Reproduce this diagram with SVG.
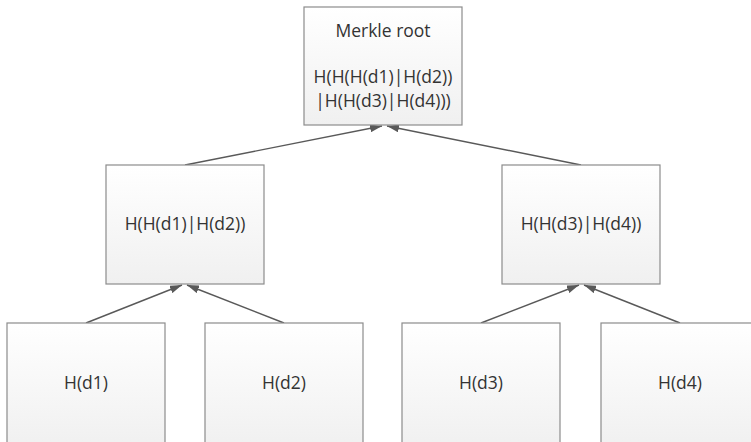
<svg xmlns="http://www.w3.org/2000/svg" width="751" height="442" viewBox="0 0 751 442">
<defs>
<linearGradient id="g" x1="0" y1="0" x2="0" y2="1">
<stop offset="0" stop-color="#ffffff"/>
<stop offset="1" stop-color="#f0f0f0"/>
</linearGradient>
<marker id="arr" viewBox="0 0 12 8" refX="12" refY="4" markerWidth="12" markerHeight="8" markerUnits="userSpaceOnUse" orient="auto">
<path d="M0,0 L12,4 L0,8 Z" fill="#595959"/>
</marker>
<style>
.box{fill:url(#g);stroke:#8c8c8c;stroke-width:1.2}
.t{font-family:"Open Sans","Liberation Sans",sans-serif;font-size:17.5px;fill:#333333;text-anchor:middle}
.c{stroke:#595959;stroke-width:1.4;fill:none;marker-end:url(#arr)}
</style>
</defs>
<rect width="751" height="442" fill="#ffffff"/>
<g id="connectors">
<line class="c" x1="185" y1="165" x2="382" y2="126"/>
<line class="c" x1="581" y1="165" x2="387" y2="126"/>
<line class="c" x1="86" y1="323" x2="182" y2="285"/>
<line class="c" x1="284" y1="323" x2="187" y2="285"/>
<line class="c" x1="481" y1="323" x2="579" y2="285"/>
<line class="c" x1="680" y1="323" x2="584" y2="285"/>
</g>
<g id="root">
<rect class="box" x="304" y="7" width="158" height="118"/>
<text class="t" x="383" y="37">Merkle root</text>
<text class="t" x="383" y="83">H(H(H(d1)|H(d2))</text>
<text class="t" x="383" y="107">|H(H(d3)|H(d4)))</text>
</g>
<g id="h12">
<rect class="box" x="106" y="165" width="158" height="119"/>
<text class="t" x="185" y="230">H(H(d1)|H(d2))</text>
</g>
<g id="h34">
<rect class="box" x="502" y="165" width="158" height="119"/>
<text class="t" x="581" y="230">H(H(d3)|H(d4))</text>
</g>
<g id="d1">
<rect class="box" x="7" y="323" width="158" height="125"/>
<text class="t" x="86" y="389">H(d1)</text>
</g>
<g id="d2">
<rect class="box" x="205" y="323" width="158" height="125"/>
<text class="t" x="284" y="389">H(d2)</text>
</g>
<g id="d3">
<rect class="box" x="402" y="323" width="158" height="125"/>
<text class="t" x="481" y="389">H(d3)</text>
</g>
<g id="d4">
<rect class="box" x="601" y="323" width="158" height="125"/>
<text class="t" x="680" y="389">H(d4)</text>
</g>
</svg>
